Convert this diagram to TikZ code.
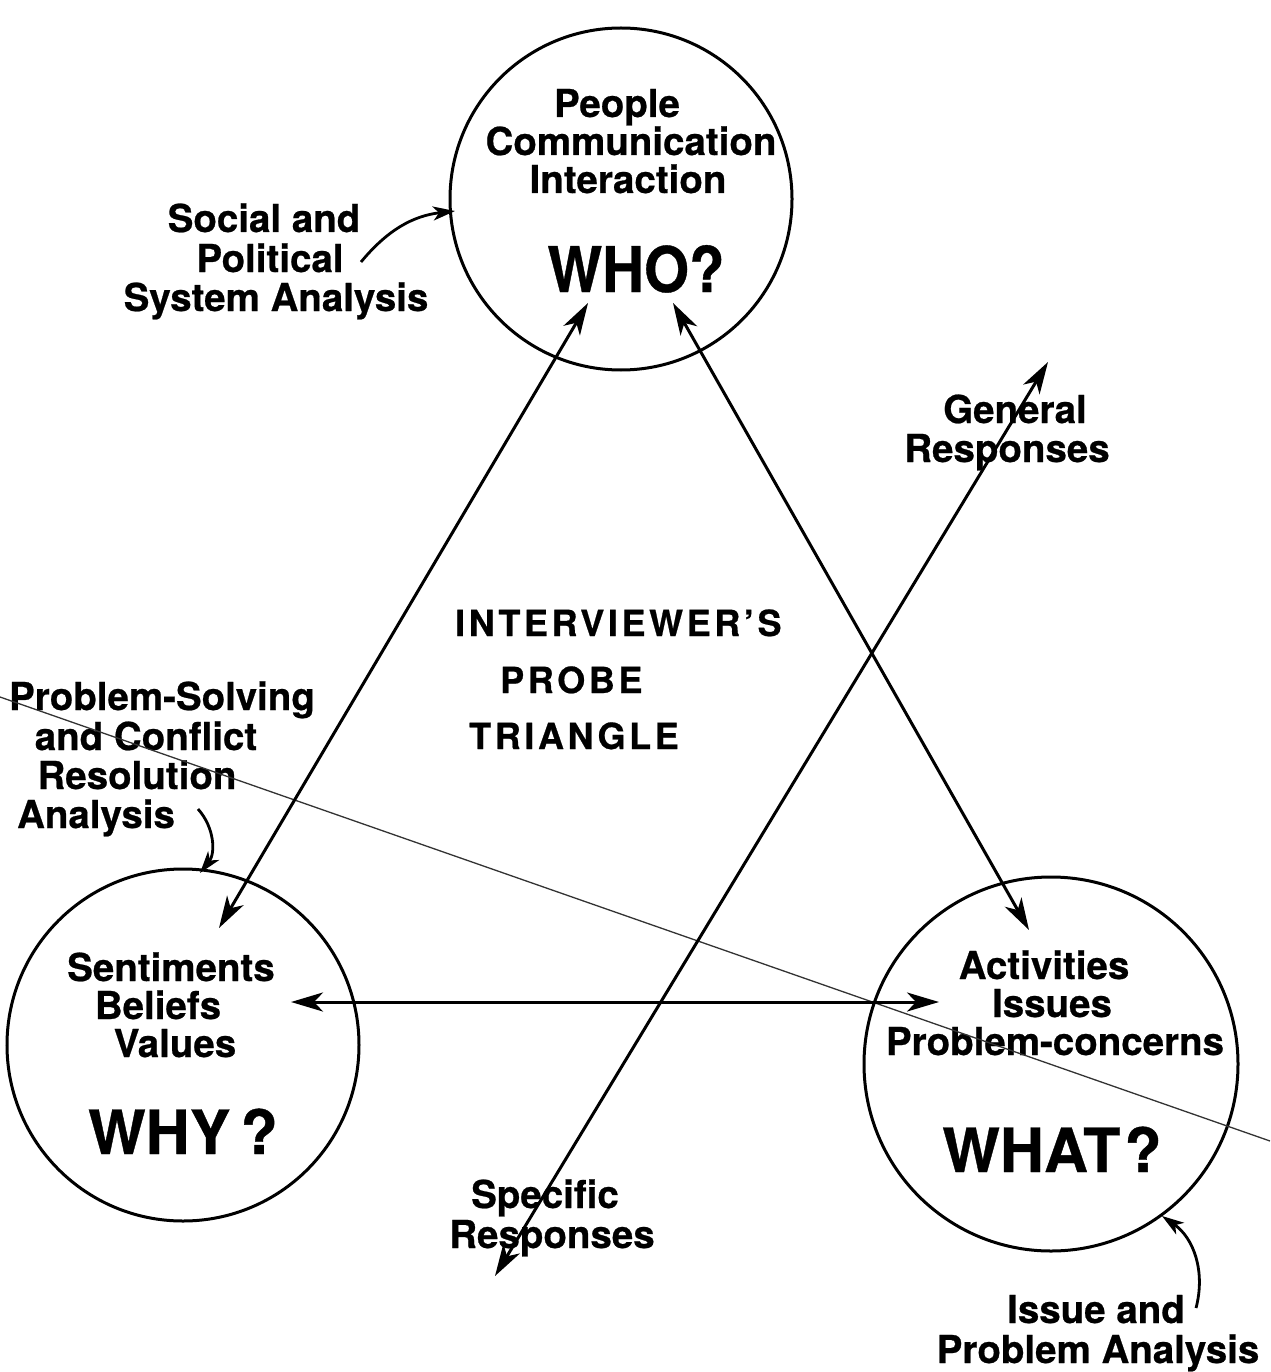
\documentclass[tikz,border=0pt]{standalone}
\usepackage{fontspec}
\setmainfont{TeX Gyre Heros}[BoldFeatures={FakeBold=0.6}]
\newfontfamily\spacedfont{TeX Gyre Heros}[LetterSpace=10,BoldFeatures={FakeBold=0.6}]
\usetikzlibrary{arrows.meta}

\begin{document}
\begin{tikzpicture}[x=1pt,y=-1pt,
  lbl/.style={anchor=base, inner sep=0pt, font=\fontsize{38.5}{40}\selectfont\bfseries},
  big/.style={anchor=base, inner sep=0pt, font=\fontsize{61}{63}\selectfont\bfseries},
  ttl/.style={anchor=base west, inner sep=0pt, font=\fontsize{36}{38}\selectfont\spacedfont\bfseries},
  ring/.style={draw, circle, line width=3pt, inner sep=0pt},
  link/.style={line width=3pt, {Stealth[length=32pt,width=19pt,inset=9pt]}-{Stealth[length=32pt,width=19pt,inset=9pt]}},
  pointer/.style={line width=2.8pt, -{Stealth[length=22pt,width=14pt,inset=6pt]}},
  crease/.style={line width=1.3pt, black!80}
]
\useasboundingbox (0,0) rectangle (1270,1372);
\fill[white] (0,0) rectangle (1270,1372);

% the three corner circles
\node[ring, minimum size=342pt] (who)  at (621,199) {};
\node[ring, minimum size=352pt] (why)  at (183,1045) {};
\node[ring, minimum size=374pt] (what) at (1051,1064) {};

% WHO circle text
\node[lbl] (who1) at (617,117) {People};
\node[lbl] (who2) at (631,155) {Communication};
\node[lbl] (who3) at (628,193) {Interaction};
\node[big, font=\fontsize{63}{65}\selectfont\bfseries] (who4) at (636,292) {\scalebox{0.92}[1]{WHO?}};

% WHY circle text
\node[lbl] (why1) at (171,981) {Sentiments};
\node[lbl] (why2) at (158,1019) {Beliefs};
\node[lbl] (why3) at (175,1057) {Values};
\node[big] (why4) at (183,1154) {WHY\,?};

% WHAT circle text
\node[lbl] (what1) at (1044,979) {Activities};
\node[lbl] (what2) at (1052,1017) {Issues};
\node[lbl] (what3) at (1055,1055) {Problem-concerns};
\node[big] (what4) at (1052,1172) {WHAT\hspace{4pt}?};

% centre title
\node[ttl] (t1) at (455,636) {INTERVIEWER’S};
\node[ttl] (t2) at (500,693) {PROBE};
\node[ttl] (t3) at (469,749) {TRIANGLE};

% side labels
\node[lbl] (soc1) at (264,232) {Social and};
\node[lbl] (soc2) at (270,272) {Political};
\node[lbl] (soc3) at (276,311) {System Analysis};

\node[lbl] (ps1) at (162,710) {Problem-Solving};
\node[lbl] (ps2) at (146,750) {and Conflict};
\node[lbl] (ps3) at (137,789) {Resolution};
\node[lbl] (ps4) at (96,828) {Analysis};

\node[lbl] (gen1) at (1015,423) {General};
\node[lbl] (gen2) at (1007,462) {Responses};

\node[lbl] (spec1) at (545,1208) {Specific};
\node[lbl] (spec2) at (552,1248) {Responses};

\node[lbl] (iss1) at (1096,1323) {Issue and};
\node[lbl] (iss2) at (1098,1363) {Problem Analysis};

% thin crease across the sheet
\coordinate (creaseW) at (0,697);
\coordinate (creaseE) at (1270,1141);
\draw[crease] (creaseW) -- (creaseE);

% arrow end points
\coordinate (whoSW) at (588,303);
\coordinate (whoSE) at (673,303);
\coordinate (whyN)  at (219,928);
\coordinate (whyE)  at (291,1002);
\coordinate (whatN) at (1029,930);
\coordinate (whatW) at (939,1002);
\coordinate (genTip)  at (1048,362);
\coordinate (specTip) at (495,1276);

% triangle of probes
\draw[link] (whoSW) -- (whyN);
\draw[link] (whoSE) -- (whatN);
\draw[link] (whyE) -- (whatW);
\draw[link] (specTip) -- (genTip);

% label pointers
\coordinate (socFrom) at (361,262);
\coordinate (socTo)   at (455,211);
\draw[pointer] (socFrom) to[bend left=22] (socTo);

\coordinate (psFrom) at (198,809);
\coordinate (psTo)   at (200,873);
\draw[pointer] (psFrom) to[bend left=40] (psTo);

\coordinate (issFrom) at (1196,1308);
\coordinate (issTo)   at (1162,1216);
\draw[pointer] (issFrom) to[bend right=35] (issTo);
\end{tikzpicture}
\end{document}
